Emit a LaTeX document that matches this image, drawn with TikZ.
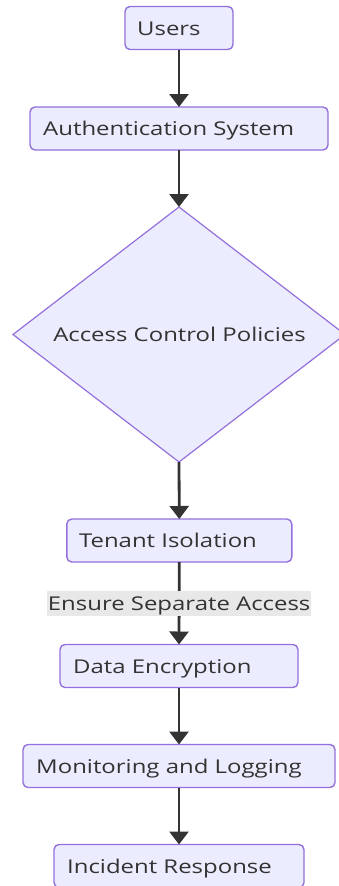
\documentclass[tikz,border=0pt]{standalone}
\usepackage{fontspec}
\setmainfont{Open Sans}[FakeStretch=1.26]
\usetikzlibrary{arrows.meta,shapes.geometric}
\definecolor{boxfill}{HTML}{ECECFF}
\definecolor{boxline}{HTML}{9370DB}
\definecolor{ink}{HTML}{333333}
\definecolor{lblbg}{HTML}{E8E8E8}
\tikzset{
  box/.style={draw=boxline, fill=boxfill, line width=1.4pt, rounded corners=5pt,
              inner sep=0pt, outer sep=0pt, minimum height=43pt},
  decision/.style={diamond, draw=boxline, fill=boxfill, line width=1.2pt,
              inner sep=0pt, outer sep=0pt, minimum width=332pt, minimum height=255pt},
  txt/.style={text=ink, font=\fontsize{19pt}{22pt}\selectfont, inner sep=0pt,
              text height=13.6pt, text depth=0pt, anchor=west},
  arr/.style={draw=ink, line width=2.8pt, -{Triangle[length=13pt,width=19pt]}},
  lbl/.style={fill=lblbg, text=ink, font=\fontsize{19pt}{22pt}\selectfont,
              text height=13.6pt, text depth=0pt,
              inner xsep=1pt, inner ysep=5.7pt}
}
\begin{document}
\begin{tikzpicture}[x=1pt,y=-1pt]
  \useasboundingbox (0,0) rectangle (338,886);

  % boxes
  \node[box, minimum width=108pt] (users) at (179,28) {};
  \node[box, minimum width=298pt] (auth)  at (179,128.5) {};
  \node[decision] (acp) at (179,334.5) {};
  \node[box, minimum width=225pt] (ten)   at (179.3,540.5) {};
  \node[box, minimum width=238pt] (enc)   at (179,666) {};
  \node[box, minimum width=312pt] (mon)   at (179,766) {};
  \node[box, minimum width=250pt] (inc)   at (179,866) {};

  % texts
  \node[txt] at ([xshift=12pt,yshift=-0.5pt]users.west) {Users};
  \node[txt] at ([xshift=13pt,yshift=-0.5pt]auth.west) {Authentication System};
  \node[txt, anchor=center] at (179.5,335) {Access Control Policies};
  \node[txt] at ([xshift=12pt,yshift=-0.5pt]ten.west) {Tenant Isolation};
  \node[txt] at ([xshift=13pt,yshift=-0.5pt]enc.west) {Data Encryption};
  \node[txt] at ([xshift=13pt,yshift=-0.5pt]mon.west) {Monitoring and Logging};
  \node[txt] at ([xshift=13pt,yshift=-0.5pt]inc.west) {Incident Response};

  % connectors
  \draw[arr] (users.south) -- (auth.north);
  \draw[arr] (auth.south) -- (acp.north);
  \draw[arr] (acp.south) -- (ten.north);
  \draw[arr] (ten.south) -- node[lbl] {Ensure Separate Access} (enc.north);
  \draw[arr] (enc.south) -- (mon.north);
  \draw[arr] (mon.south) -- (inc.north);
\end{tikzpicture}
\end{document}
